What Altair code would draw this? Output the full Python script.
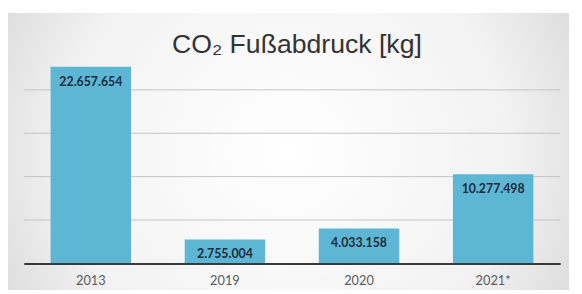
import altair as alt
import pandas as pd

years = ["2013", "2019", "2020", "2021*"]
values = [22657654, 2755004, 4033158, 10277498]
grid_values = [5000000, 10000000, 15000000, 20000000]
title_text = ["CO₂ Fußabdruck [kg]"]

labels = [f"{v:,}".replace(",", ".") for v in values]
df = pd.DataFrame({"year": years, "value": values, "label": labels})

W, H = 544, 220
yscale = alt.Scale(domain=[0, 25000000], nice=False)

bg = alt.Chart(pd.DataFrame({"d": [0]})).mark_rect(
    fill={
        "gradient": "radial",
        "x1": 0.5, "y1": 0.5, "x2": 0.5, "y2": 0.5, "r1": 0.0, "r2": 0.72,
        "stops": [
            {"offset": 0, "color": "#ffffff"},
            {"offset": 0.55, "color": "#f2f2f2"},
            {"offset": 1, "color": "#c9c9c9"},
        ],
    },
    clip=False,
).encode(
    x=alt.value(-19), x2=alt.value(W + 9),
    y=alt.value(-34), y2=alt.value(H + 27),
)

grid = alt.Chart(pd.DataFrame({"g": grid_values})).mark_rule(
    color="#c4c4c4", strokeWidth=1
).encode(
    y=alt.Y("g:Q", scale=yscale, axis=None),
    x=alt.value(0), x2=alt.value(W),
)

title = alt.Chart(pd.DataFrame({"t": title_text})).mark_text(
    font="Liberation Sans", fontSize=27, color="#333333",
    align="center", baseline="alphabetic",
).encode(text="t:N", x=alt.value(W / 2 + 5), y=alt.value(7))

base = alt.Chart(df).encode(
    x=alt.X("year:N", sort=years,
            scale=alt.Scale(paddingInner=0.4, paddingOuter=0.2),
            axis=alt.Axis(title=None, labelAngle=0, labelFont="Lato",
                          labelFontSize=13, labelColor="#5a5a5a",
                          labelPadding=11, ticks=False, domainColor="#3a3a3a",
                          domainWidth=2, grid=False, zindex=1)),
)

bars = base.mark_bar(color="#5db6d3").encode(
    y=alt.Y("value:Q", scale=yscale, axis=None),
)

text = base.mark_text(baseline="middle", dy=15, font="Lato", fontWeight="bold",
                      fontSize=12.5, color="#1c2b3a").encode(
    y=alt.Y("value:Q", scale=yscale),
    text="label:N",
)

chart = alt.layer(bg, grid, title, bars, text).properties(
    width=W, height=H,
    autosize=alt.AutoSizeParams(type="none"),
    padding={"left": 16, "top": 37, "right": 14, "bottom": 29},
).configure_view(stroke=None)

chart.save("out.html", embed_options={"renderer": "svg", "actions": False})
